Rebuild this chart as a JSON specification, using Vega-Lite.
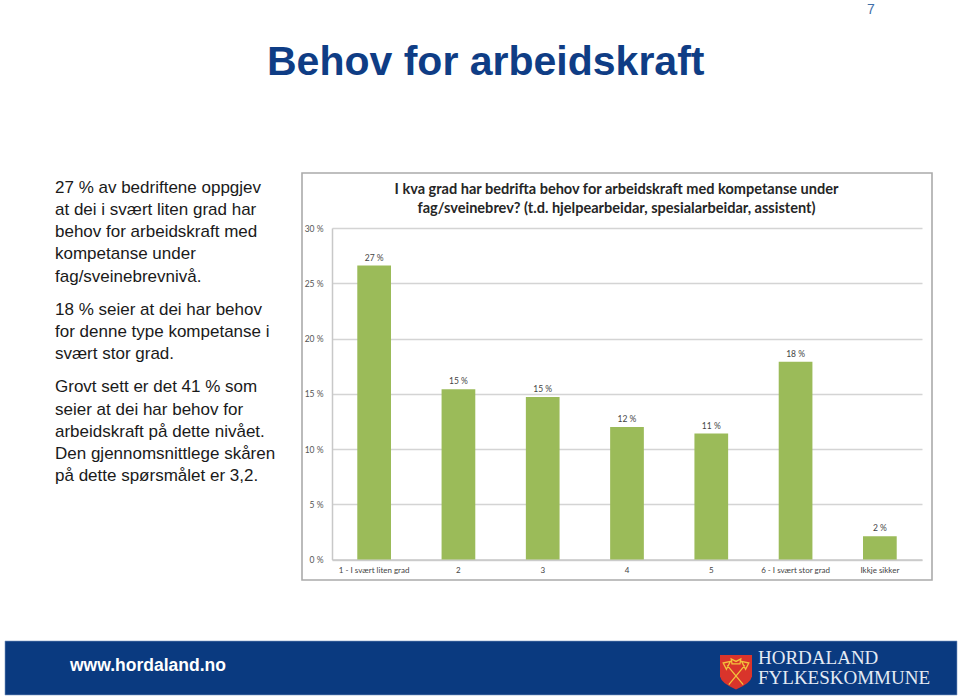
{
"$schema":"https://vega.github.io/schema/vega-lite/v6.json",
"width":960,"height":696,"padding":0,"autosize":{"type":"none","contains":"padding"},"background":"white",
"datasets":{
"bars":[
{"kategori":"1 - I svært liten grad","andel":26.6,"etikett":"27 %"},
{"kategori":"2","andel":15.4,"etikett":"15 %"},
{"kategori":"3","andel":14.7,"etikett":"15 %"},
{"kategori":"4","andel":12.0,"etikett":"12 %"},
{"kategori":"5","andel":11.4,"etikett":"11 %"},
{"kategori":"6 - I svært stor grad","andel":17.9,"etikett":"18 %"},
{"kategori":"Ikkje sikker","andel":2.1,"etikett":"2 %"}],
"body":[
{"line":1,"text":"27 % av bedriftene oppgjev"},
{"line":2,"text":"at dei i svært liten grad har"},
{"line":3,"text":"behov for arbeidskraft med"},
{"line":4,"text":"kompetanse under"},
{"line":5,"text":"fag/sveinebrevnivå."},
{"line":6.5,"text":"18 % seier at dei har behov"},
{"line":7.5,"text":"for denne type kompetanse i"},
{"line":8.5,"text":"svært stor grad."},
{"line":10,"text":"Grovt sett er det 41 % som"},
{"line":11,"text":"seier at dei har behov for"},
{"line":12,"text":"arbeidskraft på dette nivået."},
{"line":13,"text":"Den gjennomsnittlege skåren"},
{"line":14,"text":"på dette spørsmålet er 3,2."}],
"charttitle":[
{"line":1,"text":"I kva grad har bedrifta behov for arbeidskraft med kompetanse under"},
{"line":2,"text":"fag/sveinebrev? (t.d. hjelpearbeidar, spesialarbeidar, assistent)"}],
"logotext":[
{"line":1,"text":"HORDALAND"},
{"line":2,"text":"FYLKESKOMMUNE"}]
},
"layer":[
{"data":{"values":[{"n":"frame"}]},
 "mark":{"type":"rect","fill":"transparent","stroke":"#ababab","strokeWidth":1.6},
 "encoding":{"x":{"value":302},"x2":{"value":932},"y":{"value":173},"y2":{"value":580}}},
{"data":{"name":"bars"},
 "mark":{"type":"bar","fill":"#9bbb59"},
 "encoding":{
  "x":{"field":"kategori","type":"nominal","sort":null,"title":null,
   "scale":{"range":[332,922],"paddingInner":0.6,"paddingOuter":0.3},
   "axis":{"orient":"bottom","offset":-136.5,"labelAngle":0,"labelFont":"Lato","labelFontSize":8,"labelColor":"#444444","labelPadding":7,"ticks":false,"domainColor":"#c8c8c8","domainWidth":1.5,"grid":false}},
  "y":{"field":"andel","type":"quantitative","title":null,
   "scale":{"domain":[0,30],"range":[559.5,228],"nice":false},
   "axis":{"orient":"left","offset":-332,"values":[0,5,10,15,20,25,30],"labelExpr":"datum.value + ' %'","labelFont":"Lato","labelFontSize":8.5,"labelColor":"#555555","labelPadding":9,"ticks":false,"domainColor":"#c8c8c8","domainWidth":1.5,"grid":true,"gridColor":"#d4d4d4","gridWidth":1.5}}}},
{"data":{"name":"bars"},
 "mark":{"type":"text","font":"Lato","fontSize":8.5,"color":"#444444","baseline":"bottom","dy":-3},
 "encoding":{
  "x":{"field":"kategori","type":"nominal","sort":null,"axis":null,"scale":{"range":[332,922],"paddingInner":0.6,"paddingOuter":0.3}},
  "y":{"field":"andel","type":"quantitative","axis":null,"scale":{"domain":[0,30],"range":[559.5,228],"nice":false}},
  "text":{"field":"etikett"}}},
{"data":{"name":"charttitle"},
 "mark":{"type":"text","font":"Lato","fontSize":14.55,"fontWeight":"bold","color":"#262626","align":"center","baseline":"middle"},
 "encoding":{"x":{"value":616.5},
  "y":{"field":"line","type":"quantitative","axis":null,"scale":{"domain":[1,2],"range":[190,209]}},
  "text":{"field":"text"}}},
{"data":{"name":"body"},
 "mark":{"type":"text","font":"Liberation Sans","fontSize":17,"color":"#1a1a1a","align":"left","baseline":"middle"},
 "encoding":{"x":{"value":55},
  "y":{"field":"line","type":"quantitative","axis":null,"scale":{"domain":[1,14],"range":[188,476]}},
  "text":{"field":"text"}}},
{"data":{"values":[{"text":"Behov for arbeidskraft"}]},
 "mark":{"type":"text","font":"Liberation Sans","fontSize":41,"fontWeight":"bold","color":"#0f3d85","align":"left","baseline":"middle"},
 "encoding":{"x":{"value":267},"y":{"value":63},"text":{"field":"text"}}},
{"data":{"values":[{"text":"7"}]},
 "mark":{"type":"text","font":"Liberation Sans","fontSize":14,"color":"#3f6fa8","align":"center","baseline":"middle"},
 "encoding":{"x":{"value":871},"y":{"value":10},"text":{"field":"text"}}},
{"data":{"values":[{"n":"banner"}]},
 "mark":{"type":"rect","fill":"#0a3a80","stroke":"#7d9cc4","strokeWidth":0.6},
 "encoding":{"x":{"value":5},"x2":{"value":957},"y":{"value":641},"y2":{"value":695}}},
{"data":{"values":[{"text":"www.hordaland.no"}]},
 "mark":{"type":"text","font":"Liberation Sans","fontSize":17.5,"fontWeight":"bold","color":"white","align":"left","baseline":"middle"},
 "encoding":{"x":{"value":70},"y":{"value":666},"text":{"field":"text"}}},
{"data":{"values":[{"n":"skjold"}]},
 "mark":{"type":"point","filled":true,"opacity":1,"fill":"#d9342b","stroke":null,"size":1024,"shape":"M-1,-1 L1,-1 L1,0.35 Q0.9,0.8 0,1.15 Q-0.9,0.8 -1,0.35 Z"},
 "encoding":{"x":{"value":736},"y":{"value":671}}},
{"data":{"values":[{"n":"øks"}]},
 "mark":{"type":"point","filled":false,"opacity":1,"stroke":"#f3c33c","strokeWidth":1.3,"size":1024,"shape":"M-0.55,-0.35 L0.45,0.85 M0.55,-0.35 L-0.45,0.85 M-0.8,-0.5 L-0.35,-0.6 L-0.6,-0.1 Z M0.8,-0.5 L0.35,-0.6 L0.6,-0.1 Z M-0.25,-0.45 L0.25,-0.45 L0.3,-0.75 L0,-0.6 L-0.3,-0.75 Z"},
 "encoding":{"x":{"value":736},"y":{"value":671}}},
{"data":{"name":"logotext"},
 "mark":{"type":"text","font":"Liberation Serif","fontSize":19,"color":"#e4ebf4","align":"left","baseline":"middle"},
 "encoding":{"x":{"value":758},
  "y":{"field":"line","type":"quantitative","axis":null,"scale":{"domain":[1,2],"range":[658,678]}},
  "text":{"field":"text"}}}
],
"resolve":{"scale":{"x":"independent","y":"independent"},"axis":{"x":"independent","y":"independent"}},
"config":{"view":{"stroke":null}}
}
